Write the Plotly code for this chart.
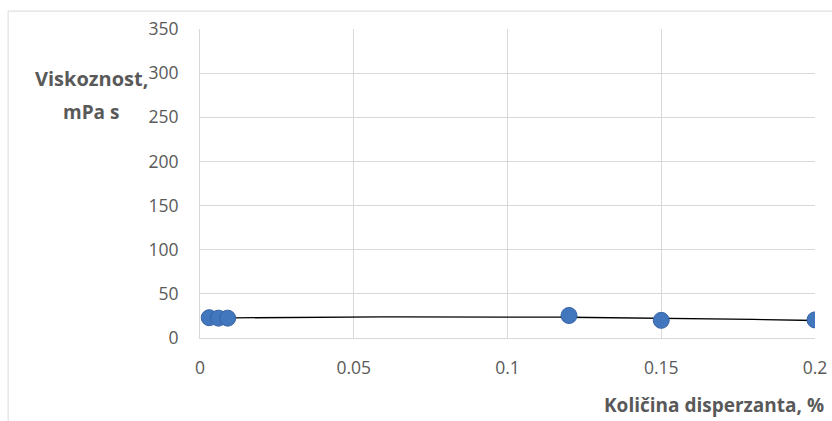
import numpy as np
import plotly.graph_objects as go

kolicina = [0.003, 0.006, 0.009, 0.12, 0.15, 0.2]
viskoznost = [23.0, 22.5, 22.5, 25.5, 20.0, 20.5]
x_ticks = [0, 0.05, 0.1, 0.15, 0.2]
y_ticks = [0, 50, 100, 150, 200, 250, 300, 350]

coef = np.polyfit(kolicina, viskoznost, 2)
xt = np.linspace(min(kolicina), max(kolicina), 60)
yt = np.polyval(coef, xt)

fig = go.Figure()
fig.add_trace(go.Scatter(x=xt, y=yt, mode="lines",
                         line=dict(color="#000000", width=1.3), hoverinfo="skip"))
fig.add_trace(go.Scatter(x=kolicina, y=viskoznost, mode="markers",
                         marker=dict(color="#4276bd", size=16,
                                     line=dict(color="#3563a5", width=1))))

font_main = "Open Sans, Liberation Sans, sans-serif"
fig.update_layout(
    width=832, height=421,
    margin=dict(l=200, r=17, t=29, b=83),
    paper_bgcolor="white", plot_bgcolor="white",
    showlegend=False,
    font=dict(family=font_main, size=17, color="#595959"),
    xaxis=dict(range=[0, 0.2], tickvals=x_ticks, ticktext=[str(v) for v in x_ticks],
               showgrid=True, gridcolor="#d9d9d9", gridwidth=1,
               showline=True, linecolor="#d9d9d9", zeroline=False,
               ticks="", ticklabelstandoff=14, automargin=False,
               ticklabeloverflow="allow",
               tickfont=dict(size=17.5, color="#595959")),
    yaxis=dict(range=[0, 350], tickvals=y_ticks,
               showgrid=True, gridcolor="#d9d9d9", gridwidth=1,
               showline=True, linecolor="#d9d9d9", zeroline=False,
               ticks="", ticklabelstandoff=17, automargin=False,
               tickfont=dict(size=17.5, color="#595959")),
    annotations=[
        dict(text="<b>Viskoznost,</b>", x=-0.0813, y=0.841, xref="paper", yref="paper",
             xanchor="right", yanchor="middle", showarrow=False,
             font=dict(size=20, color="#595959", family=font_main)),
        dict(text="<b>mPa s</b>", x=-0.177, y=0.731, xref="paper", yref="paper",
             xanchor="center", yanchor="middle", showarrow=False,
             font=dict(size=19, color="#595959", family=font_main)),
        dict(text="<b>Količina disperzanta, %</b>", x=1.018, y=-0.217, xref="paper", yref="paper",
             xanchor="right", yanchor="middle", showarrow=False,
             font=dict(size=19, color="#595959", family=font_main)),
    ],
    shapes=[dict(type="rect", xref="paper", yref="paper",
                 x0=-0.312, x1=1.05, y0=-0.3, y1=1.058,
                 line=dict(color="#d9d9d9", width=1), layer="below")],
)

fig.write_html("out.html", config={"displayModeBar": False},
               post_script="document.body.style.margin='0';document.body.style.overflow='hidden';")
